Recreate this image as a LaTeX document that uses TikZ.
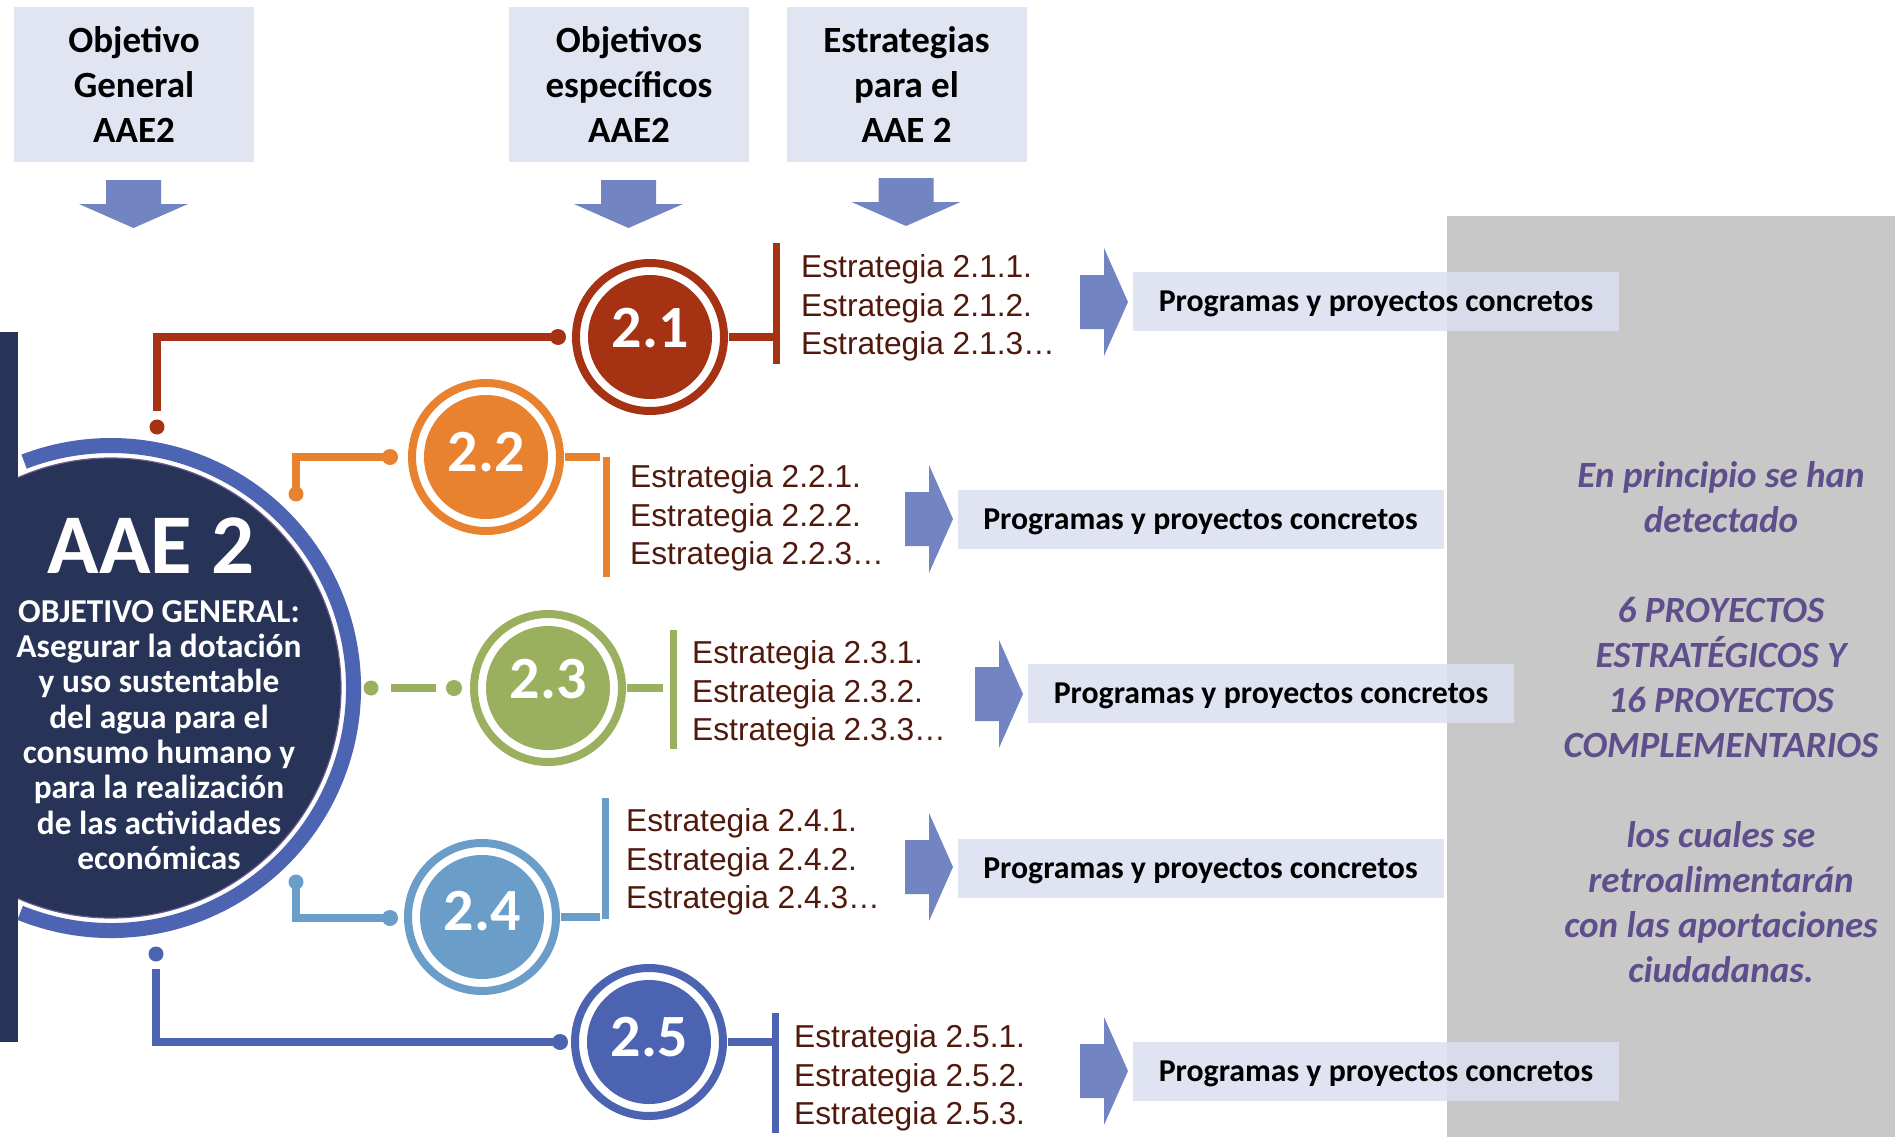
\documentclass[tikz,border=0pt]{standalone}
\usepackage{fontspec}
\setmainfont{Carlito}
\newfontfamily\arialf{Liberation Sans}
\definecolor{navy}{RGB}{40,51,88}
\definecolor{bordc}{RGB}{105,90,145}
\definecolor{ringc}{RGB}{76,100,178}
\definecolor{hdrc}{RGB}{225,229,242}
\definecolor{progc}{RGB}{218,223,240}
\definecolor{arrc}{RGB}{115,132,194}
\definecolor{grayc}{RGB}{200,200,200}
\definecolor{stratc}{RGB}{80,25,12}
\definecolor{purp}{RGB}{94,78,140}
\definecolor{cA}{RGB}{166,50,20}
\definecolor{cB}{RGB}{232,130,47}
\definecolor{cC}{RGB}{155,176,94}
\definecolor{cD}{RGB}{106,157,200}
\definecolor{cE}{RGB}{76,99,177}
\begin{document}
\begin{tikzpicture}[x=1pt,y=-1pt,
  hdr/.style={fill=hdrc, minimum width=240pt, minimum height=155pt, inner sep=0pt, align=center, font=\bfseries\fontsize{37}{44.7}\selectfont},
  prog/.style={fill=progc, fill opacity=0.85, text opacity=1, minimum width=486pt, minimum height=59pt, inner sep=0pt, text depth=0pt, font=\bfseries\fontsize{31.8}{38}\selectfont},
  numc/.style={circle, fill=#1, minimum size=124pt, inner sep=0pt},
  numt/.style={inner sep=0pt, text=white, font=\bfseries\fontsize{60}{62}\selectfont},
  strat/.style={anchor=west, align=left, inner sep=0pt, text=stratc, font=\arialf\fontsize{31.7}{38.5}\selectfont},
  conn/.style={draw=#1, line width=7.5pt},
  brk/.style={draw=#1, line width=7pt},
  darr/.pic={\fill[arrc] (-27.5,0) -- (27.5,0) -- (27.5,24) -- (54.5,24) -- (0,48) -- (-54.5,24) -- (-27.5,24) -- cycle;},
  rarr/.pic={\fill[arrc] (0,-27) -- (24,-27) -- (24,-54) -- (48,0) -- (24,54) -- (24,27) -- (0,27) -- cycle;}
]
\fill[white] (0,0) rectangle (1895,1137);
\useasboundingbox (0,0) rectangle (1895,1137);
% gray panel
\fill[grayc] (1447,216) rectangle (1895,1137);

% headers
\node[hdr] (h1) at (134,84.5) {Objetivo\\General\\AAE2};
\node[hdr] (h2) at (629,84.5) {Objetivos\\específicos\\AAE2};
\node[hdr] (h3) at (906.5,84.5) {Estrategias\\para el\\AAE 2};
\pic at (133.5,180) {darr};
\pic at (628.5,180) {darr};
\pic at (906,178) {darr};

% big circle
\coordinate (bigc) at (111,688);
\filldraw[fill=navy, draw=bordc, line width=1.2pt] (bigc) circle[radius=230pt];
\fill[navy] (0,332) rectangle (18,1042);
\draw[ringc, line width=15pt] (bigc) ++(-112:242.5pt) arc[start angle=-112, end angle=111, radius=242.5pt];
\node[text=white, inner sep=0pt, font=\bfseries\fontsize{85}{90}\selectfont] (aae) at (151,546) {AAE 2};
\node[text=white, inner sep=0pt, align=center, font=\bfseries\fontsize{33.4}{35.3}\selectfont] (og) at (159,735)
 {OBJETIVO GENERAL:\\Asegurar la dotación\\y uso sustentable\\del agua para el\\consumo humano y\\para la realización\\de las actividades\\económicas};

% circle centres
\coordinate (kA) at (650,337);
\coordinate (kB) at (486,457);
\coordinate (kC) at (548,688);
\coordinate (kD) at (482,917);
\coordinate (kE) at (649,1042);

% brackets
\coordinate (btA) at (776,243); \coordinate (bbA) at (776,364);
\coordinate (btB) at (606,457); \coordinate (bbB) at (606,577);
\coordinate (btC) at (673,630); \coordinate (bbC) at (673,749);
\coordinate (btD) at (605,798); \coordinate (bbD) at (605,919);
\coordinate (btE) at (775,1013); \coordinate (bbE) at (775,1133);
\draw[brk=cA] (btA) -- (bbA);
\draw[brk=cB] (btB) -- (bbB);
\draw[brk=cC] (btC) -- (bbC);
\draw[brk=cD] (btD) -- (bbD);
\draw[brk=cE] (btE) -- (bbE);

% short connectors circle -> bracket
\draw[conn=cA] (kA) -- (kA -| btA);
\draw[conn=cB] (kB) -- ([xshift=-6pt]kB -| btB);
\draw[conn=cC] (kC) -- ([xshift=-10pt]kC -| btC);
\draw[conn=cD] (kD) -- ([xshift=-5pt]kD -| btD);
\draw[conn=cE] (kE) -- (kE -| btE);

% left connectors
\coordinate (oA) at (157,427); \coordinate (sA) at (157,411); \coordinate (eA) at (558,337);
\draw[conn=cA] (sA) |- (eA);
\fill[cA] (oA) circle[radius=7.5pt]; \fill[cA] (eA) circle[radius=8pt];

\coordinate (sB) at (296,494); \coordinate (eB) at (390,457);
\draw[conn=cB] (sB) |- (eB);
\fill[cB] (sB) circle[radius=7.5pt]; \fill[cB] (eB) circle[radius=8pt];

\coordinate (sC) at (371,688); \coordinate (eC) at (454,688);
\draw[conn=cC] (391,688) -- (436,688);
\fill[cC] (sC) circle[radius=7.5pt]; \fill[cC] (eC) circle[radius=8pt];

\coordinate (sD) at (296,882); \coordinate (eD) at (390,918);
\draw[conn=cD] (sD) |- (eD);
\fill[cD] (sD) circle[radius=7.5pt]; \fill[cD] (eD) circle[radius=8pt];

\coordinate (oE) at (156,954); \coordinate (sE) at (156,969); \coordinate (eE) at (560,1042);
\draw[conn=cE] (sE) |- (eE);
\fill[cE] (oE) circle[radius=7.5pt]; \fill[cE] (eE) circle[radius=8pt];

% number circles
\foreach \k/\c/\t/\dy in {A/cA/2.1/9, B/cB/2.2/5, C/cC/2.3/9, D/cD/2.4/6, E/cE/2.5/5}{
  \fill[white] (k\k) circle[radius=79pt];
  \draw[\c, line width=8pt] (k\k) circle[radius=74pt];
  \node[numc=\c] (n\k) at (k\k) {};
  \node[numt] (l\k) at ([yshift=\dy pt]n\k.center) {\t};
}

% strategies
\node[strat] (tA) at (801,308) {Estrategia 2.1.1.\\Estrategia 2.1.2.\\Estrategia 2.1.3…};
\node[strat] (tB) at (630,518) {Estrategia 2.2.1.\\Estrategia 2.2.2.\\Estrategia 2.2.3…};
\node[strat] (tC) at (692,694) {Estrategia 2.3.1.\\Estrategia 2.3.2.\\Estrategia 2.3.3…};
\node[strat] (tD) at (626,862) {Estrategia 2.4.1.\\Estrategia 2.4.2.\\Estrategia 2.4.3…};
\node[strat] (tE) at (794,1078) {Estrategia 2.5.1.\\Estrategia 2.5.2.\\Estrategia 2.5.3.};

% arrows and programme boxes
\pic at (1080,302) {rarr};
\pic at (905,519) {rarr};
\pic at (975,694) {rarr};
\pic at (905,867) {rarr};
\pic at (1080,1071) {rarr};
\node[prog] (pA) at (1376,301.5) {Programas y proyectos concretos};
\node[prog] (pB) at (1200.5,519.5) {Programas y proyectos concretos};
\node[prog] (pC) at (1271,693.5) {Programas y proyectos concretos};
\node[prog] (pD) at (1200.5,868) {Programas y proyectos concretos};
\node[prog] (pE) at (1376,1071) {Programas y proyectos concretos};

% right note
\node[text=purp, align=center, inner sep=0pt, font=\bfseries\itshape\fontsize{37}{45}\selectfont] (note) at (1721,722.5)
 {En principio se han\\detectado\\[45pt]6 PROYECTOS\\ESTRATÉGICOS Y\\16 PROYECTOS\\COMPLEMENTARIOS\\[45pt]los cuales se\\retroalimentarán\\con las aportaciones\\ciudadanas.};
\end{tikzpicture}
\end{document}
